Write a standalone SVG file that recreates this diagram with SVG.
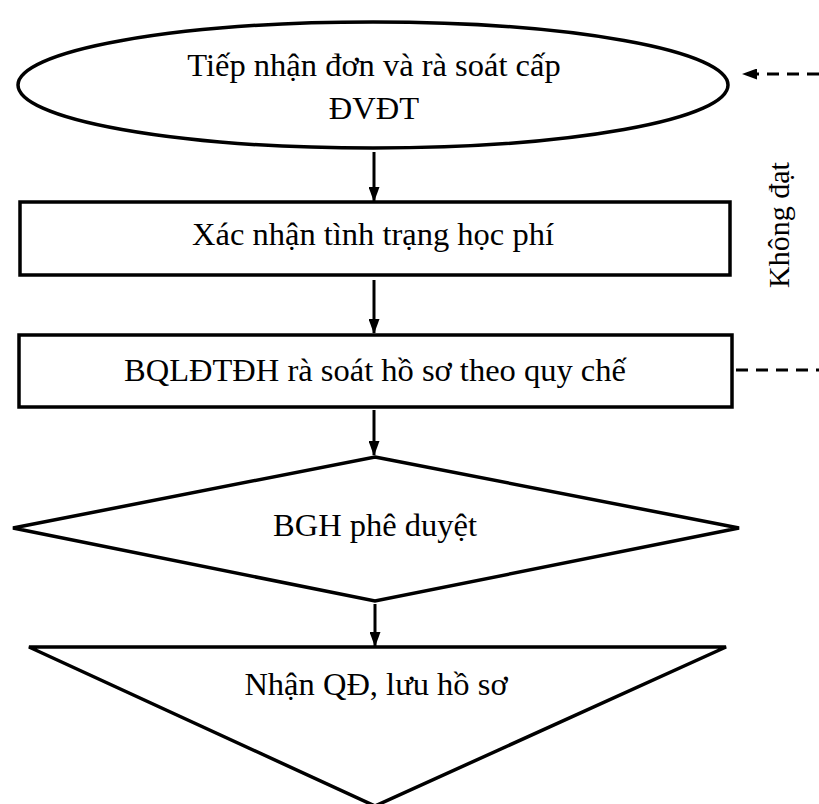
<svg xmlns="http://www.w3.org/2000/svg" width="819" height="804" viewBox="0 0 819 804">
<style>
.shape{fill:#fff;stroke:#000;stroke-width:3.5}
.lbl{font-family:"Liberation Serif","Times New Roman",serif;font-size:32.5px;fill:#000;text-anchor:middle}
.side{font-family:"Liberation Serif","Times New Roman",serif;font-size:30px;fill:#000;text-anchor:middle}
.conn{stroke:#000;stroke-width:3;fill:none}
.dash{stroke:#000;stroke-width:3;fill:none;stroke-dasharray:12 8}
</style>
<defs>
<marker id="ahs" markerWidth="15" markerHeight="11" refX="14" refY="5.5" orient="auto" markerUnits="userSpaceOnUse" viewBox="0 0 15 11">
<path d="M0,0 L15,5.5 L0,11 Z" fill="#000"/>
</marker>
</defs>
<rect width="819" height="804" fill="#fff"/>
<g id="connectors">
<line class="conn" x1="374" y1="152" x2="374" y2="201" marker-end="url(#ahs)"/>
<line class="conn" x1="374" y1="280" x2="374" y2="333" marker-end="url(#ahs)"/>
<line class="conn" x1="374" y1="410" x2="374" y2="455" marker-end="url(#ahs)"/>
<line class="conn" x1="375" y1="604" x2="375" y2="646" marker-end="url(#ahs)"/>
<line class="dash" x1="819" y1="74" x2="743" y2="74" marker-end="url(#ahs)"/>
<line class="dash" x1="736" y1="370" x2="819" y2="370"/>
<text class="side" transform="translate(789,225) rotate(-90)">Không đạt</text>
</g>
<g id="node-tiepnhan">
<ellipse class="shape" cx="373" cy="85" rx="355" ry="63"/>
<text class="lbl" x="374" y="76">Tiếp nhận đơn và rà soát cấp</text>
<text class="lbl" x="374" y="119">ĐVĐT</text>
</g>
<g id="node-xacnhan">
<rect class="shape" x="20" y="202" width="710" height="73"/>
<text class="lbl" x="373" y="245">Xác nhận tình trạng học phí</text>
</g>
<g id="node-bql">
<rect class="shape" x="19" y="335" width="713" height="72"/>
<text class="lbl" x="375" y="381">BQLĐTĐH rà soát hồ sơ theo quy chế</text>
</g>
<g id="node-bgh">
<polygon class="shape" points="375,457 739,528 375,601 13,528"/>
<text class="lbl" x="375" y="536">BGH phê duyệt</text>
</g>
<g id="node-nhanqd">
<polygon class="shape" points="29,647 726,647 375,806"/>
<text class="lbl" x="376" y="695">Nhận QĐ, lưu hồ sơ</text>
</g>
</svg>
